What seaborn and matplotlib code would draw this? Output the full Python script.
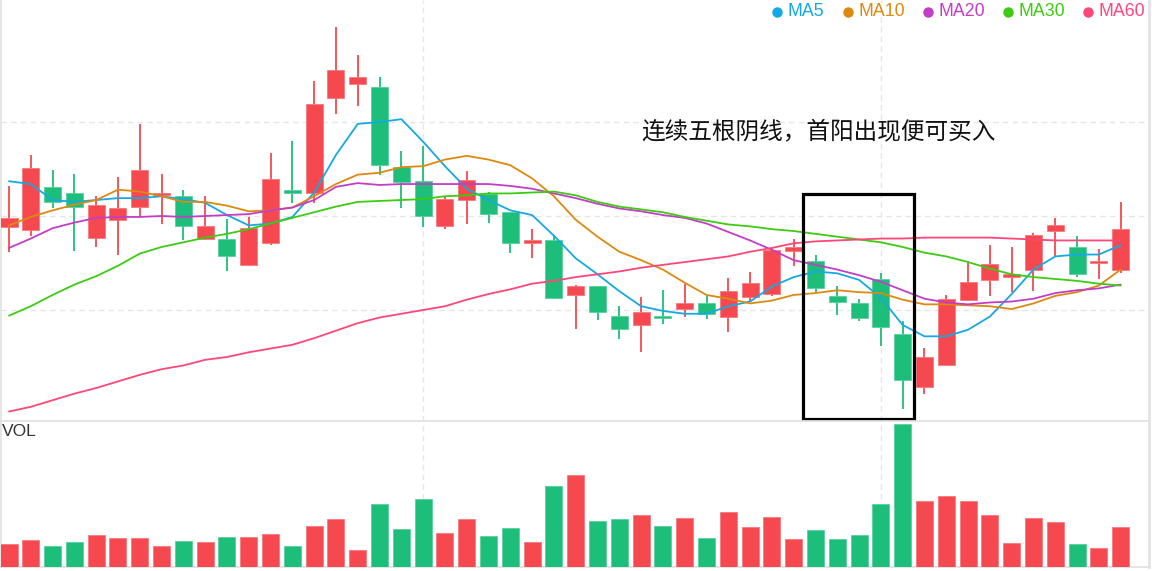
import numpy as np
import pandas as pd
import matplotlib
matplotlib.use("Agg")
import matplotlib.pyplot as plt
import seaborn as sns
from matplotlib.patches import Rectangle
from matplotlib.lines import Line2D

# ---------------- data ----------------
open_ = [10.88, 10.85, 11.31, 11.25, 10.77, 10.96, 11.10, 11.22, 11.21, 10.75,
         10.75, 10.48, 10.71, 11.28, 11.25, 12.26, 12.40, 12.37, 11.52, 11.37,
         10.89, 11.17, 11.23, 11.04, 10.71, 10.74, 10.16, 10.25, 9.94, 9.84,
         9.94, 10.01, 10.07, 9.93, 10.14, 10.17, 10.63, 10.52, 10.15, 10.07,
         10.33, 9.74, 9.18, 9.42, 10.11, 10.32, 10.35, 10.43, 10.84, 10.67,
         10.50, 10.43]
close_ = [10.98, 11.51, 11.15, 11.10, 11.12, 11.08, 11.49, 11.25, 10.89, 10.89,
          10.57, 10.87, 11.39, 11.25, 12.19, 12.55, 12.48, 11.54, 11.36, 11.00,
          11.18, 11.38, 11.02, 10.71, 10.74, 10.13, 10.26, 9.98, 9.80, 9.98,
          9.92, 10.07, 9.96, 10.20, 10.29, 10.64, 10.67, 10.23, 10.09, 9.92,
          9.82, 9.26, 9.50, 10.12, 10.30, 10.49, 10.38, 10.80, 10.90, 10.38,
          10.52, 10.86]
high = [11.32, 11.65, 11.49, 11.45, 11.21, 11.42, 11.98, 11.45, 11.28, 11.21,
        10.97, 10.99, 11.67, 11.80, 12.44, 13.01, 12.71, 12.48, 11.69, 11.74,
        11.20, 11.48, 11.26, 11.04, 10.86, 10.80, 10.27, 10.25, 10.04, 10.14,
        10.21, 10.28, 10.16, 10.34, 10.40, 10.66, 10.75, 10.58, 10.26, 10.12,
        10.39, 9.88, 9.60, 10.16, 10.50, 10.69, 10.67, 10.82, 10.98, 10.79,
        10.65, 11.15]
low = [10.62, 10.79, 11.08, 10.63, 10.67, 10.59, 11.00, 10.92, 10.74, 10.74,
       10.41, 10.47, 10.69, 11.14, 11.14, 12.09, 12.17, 11.44, 11.09, 10.88,
       10.86, 10.92, 10.93, 10.61, 10.55, 10.12, 9.80, 9.89, 9.69, 9.55,
       9.85, 9.93, 9.90, 9.77, 10.08, 10.15, 10.47, 10.19, 9.95, 9.88,
       9.62, 8.95, 9.11, 9.40, 10.10, 10.15, 10.19, 10.20, 10.57, 10.35,
       10.33, 10.39]
volume = [22.4, 26.7, 21.0, 24.4, 32.0, 29.0, 29.0, 20.7, 25.7, 25.0,
          30.0, 29.4, 33.0, 20.4, 40.4, 48.0, 16.4, 62.7, 37.7, 67.4,
          33.7, 47.7, 30.4, 38.4, 25.0, 80.4, 91.4, 46.0, 47.4, 51.7,
          41.0, 48.7, 29.0, 54.7, 39.7, 49.4, 27.7, 36.7, 27.4, 31.4,
          62.4, 142.7, 66.0, 70.4, 65.7, 52.0, 23.4, 49.0, 44.4, 22.4,
          18.4, 39.4]
ma5 = [11.37, 11.34, 11.17, 11.15, 11.17, 11.19, 11.19, 11.21, 11.18, 11.14,
       11.01, 10.90, 10.92, 10.99, 11.25, 11.65, 11.98, 12.00, 12.03, 11.79,
       11.53, 11.29, 11.17, 11.06, 11.01, 10.79, 10.55, 10.38, 10.20, 10.04,
       9.99, 9.96, 9.96, 10.04, 10.09, 10.25, 10.35, 10.41, 10.39, 10.32,
       10.13, 9.84, 9.72, 9.72, 9.79, 9.93, 10.17, 10.43, 10.57, 10.59,
       10.59, 10.69]
ma10 = [10.90, 10.99, 11.06, 11.12, 11.17, 11.28, 11.26, 11.21, 11.15, 11.15,
        11.11, 11.05, 11.06, 11.09, 11.21, 11.34, 11.44, 11.46, 11.52, 11.53,
        11.60, 11.64, 11.60, 11.54, 11.40, 11.21, 10.96, 10.78, 10.62, 10.53,
        10.43, 10.29, 10.16, 10.12, 10.07, 10.10, 10.16, 10.18, 10.21, 10.19,
        10.18, 10.11, 10.06, 10.06, 10.05, 10.04, 10.01, 10.07, 10.15, 10.19,
        10.26, 10.43]
ma20 = [10.66, 10.76, 10.87, 10.93, 10.98, 10.99, 10.99, 11.00, 10.99, 11.00,
        11.01, 11.02, 11.06, 11.09, 11.17, 11.31, 11.35, 11.33, 11.34, 11.34,
        11.34, 11.34, 11.34, 11.32, 11.29, 11.24, 11.19, 11.13, 11.08, 11.05,
        11.01, 10.98, 10.92, 10.83, 10.74, 10.64, 10.53, 10.48, 10.43, 10.37,
        10.30, 10.21, 10.12, 10.08, 10.06, 10.08, 10.09, 10.12, 10.18, 10.21,
        10.23, 10.27]
ma30 = [9.94, 10.04, 10.16, 10.27, 10.36, 10.47, 10.60, 10.67, 10.72, 10.77,
        10.81, 10.86, 10.92, 10.98, 11.04, 11.10, 11.15, 11.16, 11.17, 11.18,
        11.21, 11.22, 11.24, 11.24, 11.25, 11.26, 11.22, 11.15, 11.10, 11.07,
        11.04, 10.99, 10.95, 10.91, 10.89, 10.86, 10.84, 10.81, 10.78, 10.75,
        10.72, 10.67, 10.61, 10.57, 10.51, 10.44, 10.38, 10.35, 10.33, 10.31,
        10.28, 10.26]
ma60 = [8.92, 8.97, 9.04, 9.11, 9.17, 9.24, 9.31, 9.37, 9.41, 9.47,
        9.50, 9.55, 9.59, 9.63, 9.70, 9.78, 9.86, 9.92, 9.96, 10.00,
        10.04, 10.11, 10.17, 10.22, 10.28, 10.31, 10.35, 10.38, 10.41, 10.45,
        10.48, 10.51, 10.54, 10.57, 10.62, 10.66, 10.71, 10.73, 10.74, 10.75,
        10.76, 10.76, 10.77, 10.77, 10.77, 10.77, 10.76, 10.75, 10.74, 10.74,
        10.74, 10.74]
ma_names = ["MA5", "MA10", "MA20", "MA30", "MA60"]
ma_colors = ["#14A9E4", "#DD890F", "#C43DC6", "#3DCB12", "#FF4777"]
price_ticks = [10, 11, 12]
split_idx = [19, 40]
annotation = "连续五根阴线，首阳出现便可买入"
box_first, box_last = 37, 41        # the five consecutive yin candles
box_low, box_high = 8.84, 11.23

UP, DOWN = "#F5494F", "#1DBD7A"
UP_EDGE, DOWN_EDGE = "#F87A7F", "#5ACFA0"

# ---------------- figure ----------------
sns.set_theme(style="white")
plt.rcParams['font.family'] = ['Liberation Sans', 'Noto Sans CJK SC', 'DejaVu Sans']

W, H, DPI = 1152, 571, 100
fig = plt.figure(figsize=(W / DPI, H / DPI), dpi=DPI)
fig.patch.set_facecolor("white")
left, right = 1 / W, 1149 / W
main_bottom = 1 - 421 / H
vol_bottom = 1 - 566.7 / H
ax = fig.add_axes([left, main_bottom, right - left, 1 - main_bottom])
axv = fig.add_axes([left, vol_bottom, right - left, main_bottom - vol_bottom])

n = len(close_)
x = np.arange(n)
o = np.array(open_); c = np.array(close_)
up = c >= o
colors = np.where(up, UP, DOWN)
edges = np.where(up, UP_EDGE, DOWN_EDGE)

grid_kw = dict(color="#E6E6E6", linestyle=(0, (4, 3)), linewidth=1.0)

# candles
ax.vlines(x, low, high, colors=colors, linewidth=1.3, zorder=2)
ax.bar(x, c - o, bottom=o, width=0.78, color=colors, edgecolor=edges,
       linewidth=0.6, zorder=3)

# moving averages
df = pd.DataFrame({"idx": x, "MA5": ma5, "MA10": ma10, "MA20": ma20,
                   "MA30": ma30, "MA60": ma60})
for name, col in zip(ma_names, ma_colors):
    sns.lineplot(data=df, x="idx", y=name, color=col, linewidth=1.3, ax=ax, zorder=4)

xmin, xmax = -0.367, 52.30
ax.set_xlim(xmin, xmax)
ax.set_ylim(8.819, 13.298)
ax.set_yticks(price_ticks)
ax.set_xticks(split_idx)
ax.grid(True, **grid_kw)
ax.set_axisbelow(True)
ax.tick_params(labelleft=False, labelbottom=False, length=0)
ax.set_xlabel(""); ax.set_ylabel("")
ax.spines["top"].set_visible(False)
for s in ["left", "bottom", "right"]:
    ax.spines[s].set_color("#E3E3E3")
    ax.spines[s].set_linewidth(1.3)
ax.spines["right"].set_linewidth(2.0)

# box around the five yin candles
ax.add_patch(Rectangle((box_first - 0.59, box_low), (box_last + 0.53) - (box_first - 0.59),
                       box_high - box_low, fill=False, edgecolor="black",
                       linewidth=2.3, zorder=6))

# volume
axv.bar(x, volume, width=0.78, color=colors, edgecolor=edges, linewidth=0.6, zorder=3)
axv.set_xlim(xmin, xmax)
axv.set_ylim(0, 145.7)
axv.set_xticks(split_idx)
axv.set_yticks([])
axv.grid(True, axis="x", **grid_kw)
axv.set_axisbelow(True)
axv.tick_params(labelleft=False, labelbottom=False, length=0)
for s in ["top", "right", "left", "bottom"]:
    axv.spines[s].set_color("#E3E3E3")
    axv.spines[s].set_linewidth(1.3)
axv.spines["right"].set_linewidth(2.0)

fig.text(2 / W, 1 - 431 / H, "VOL", fontsize=12.5, color="#333333", va="center", ha="left")

# legend (manual, top right)
dot_x = [777.3, 848.3, 928.3, 1008.3, 1088.3]
leg_y = 1 - 11.6 / H
for px, name, col in zip(dot_x, ma_names, ma_colors):
    fig.add_artist(Line2D([px / W], [leg_y], marker="o", markersize=6.5,
                          color=col, linestyle="none", transform=fig.transFigure))
    fig.text((px + 10.5) / W, leg_y, name, fontsize=12.8, color=col,
             va="center", ha="left")

# annotation text
fig.text(641 / W, 1 - 131.7 / H, annotation, fontsize=17, color="#111111",
         va="center", ha="left", fontweight="light",
         family=["Noto Sans CJK SC", "DejaVu Sans"])

fig.savefig("out.png", dpi=DPI, facecolor="white")
